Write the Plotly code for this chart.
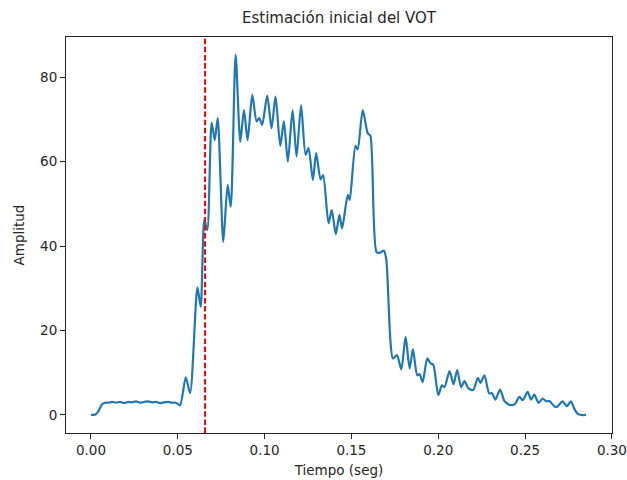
import plotly.graph_objects as go

# Time (s) and amplitude
tiempo = [0.0000, 0.0025, 0.0042, 0.0063, 0.0082, 0.0101, 0.0122, 0.0145, 0.0168, 0.0191,
          0.0214, 0.0237, 0.0260, 0.0283, 0.0306, 0.0329, 0.0352, 0.0375, 0.0398, 0.0421,
          0.0444, 0.0467, 0.0490, 0.0513, 0.0546, 0.0571, 0.0613, 0.0632, 0.0653, 0.0670,
          0.0695, 0.0713, 0.0730, 0.0762, 0.0787, 0.0805, 0.0833, 0.0860, 0.0881, 0.0902,
          0.0929, 0.0954, 0.0969, 0.0986, 0.1015, 0.1040, 0.1063, 0.1090, 0.1111, 0.1134,
          0.1161, 0.1184, 0.1210, 0.1236, 0.1253, 0.1278, 0.1297, 0.1322, 0.1337, 0.1368,
          0.1387, 0.1410, 0.1431, 0.1446, 0.1479, 0.1490, 0.1523, 0.1536, 0.1565, 0.1594,
          0.1609, 0.1644, 0.1663, 0.1687, 0.1701, 0.1739, 0.1762, 0.1787, 0.1812, 0.1835,
          0.1854, 0.1879, 0.1893, 0.1910, 0.1937, 0.1956, 0.1971, 0.2000, 0.2021, 0.2036,
          0.2065, 0.2088, 0.2109, 0.2132, 0.2151, 0.2174, 0.2201, 0.2228, 0.2243, 0.2266,
          0.2293, 0.2308, 0.2329, 0.2356, 0.2381, 0.2410, 0.2439, 0.2467, 0.2486, 0.2515,
          0.2534, 0.2553, 0.2578, 0.2601, 0.2621, 0.2640, 0.2668, 0.2684, 0.2716, 0.2741,
          0.2764, 0.2783, 0.2802, 0.2825, 0.2851]
amplitud = [0.0, 0.1, 0.8, 2.5, 2.9, 2.9, 3.1, 2.9, 3.1, 2.8,
            3.1, 3.0, 3.2, 2.9, 3.1, 3.2, 3.0, 3.1, 2.8, 3.0,
            3.1, 2.9, 2.9, 2.3, 8.9, 5.2, 30.2, 25.6, 46.2, 43.8,
            69.2, 65.1, 70.3, 41.0, 54.5, 49.3, 85.3, 64.7, 72.2, 65.1,
            75.8, 69.5, 70.3, 68.7, 75.6, 67.9, 75.4, 63.7, 69.5, 60.0,
            72.2, 61.2, 73.4, 61.6, 63.2, 55.6, 62.0, 55.8, 56.8, 45.4,
            48.5, 42.8, 47.4, 44.2, 52.1, 50.9, 63.7, 62.9, 72.2, 66.7,
            66.1, 38.6, 38.4, 38.9, 36.7, 13.4, 14.2, 10.8, 18.5, 11.0,
            15.6, 9.4, 9.65, 7.8, 13.4, 12.2, 11.95, 4.7, 7.0, 6.6,
            10.4, 7.3, 10.6, 6.6, 8.0, 6.3, 5.9, 8.8, 7.6, 9.4,
            5.1, 5.2, 3.65, 6.0, 3.3, 2.4, 2.5, 4.3, 3.5, 5.45,
            3.65, 4.8, 2.85, 3.9, 3.25, 3.3, 2.06, 1.9, 3.25, 2.06,
            3.25, 1.5, 0.33, 0.0, 0.0]
vot_inicial = 0.0657

x_ticks = [0.00, 0.05, 0.10, 0.15, 0.20, 0.25, 0.30]
y_ticks = [0, 20, 40, 60, 80]

fig = go.Figure()
fig.add_trace(go.Scatter(x=tiempo, y=amplitud, mode="lines",
                         line=dict(color="#1f77b4", width=2.2, shape="spline", smoothing=0.7),
                         showlegend=False))
fig.add_vline(x=vot_inicial, line=dict(color="red", width=2, dash="5.5px,2.6px"))

font = "DejaVu Sans, Arial, sans-serif"
axis_common = dict(showline=True, linecolor="#262626", linewidth=1, mirror=True,
                   ticks="outside", ticklen=5, tickwidth=1, tickcolor="#262626",
                   showgrid=False, zeroline=False, automargin=False,
                   tickfont=dict(family=font, size=13.5, color="#262626"))

fig.update_layout(
    width=627, height=480,
    margin=dict(l=66, r=15, t=37, b=47),
    paper_bgcolor="white", plot_bgcolor="white",
    title=dict(text="Estimación inicial del VOT", x=0.5, xref="paper", y=0.962, yanchor="middle",
               font=dict(family=font, size=15, color="#262626")),
    xaxis=dict(range=[-0.01437, 0.30005], tickvals=x_ticks, tickformat=".2f",
               title=dict(text="Tiempo (seg)", standoff=8, font=dict(family=font, size=13.5, color="#262626")),
               **axis_common),
    yaxis=dict(range=[-4.27, 89.5], tickvals=y_ticks,
               title=dict(text="Amplitud", standoff=12, font=dict(family=font, size=13.5, color="#262626")),
               **axis_common),
)

fig.write_html("out.html")
